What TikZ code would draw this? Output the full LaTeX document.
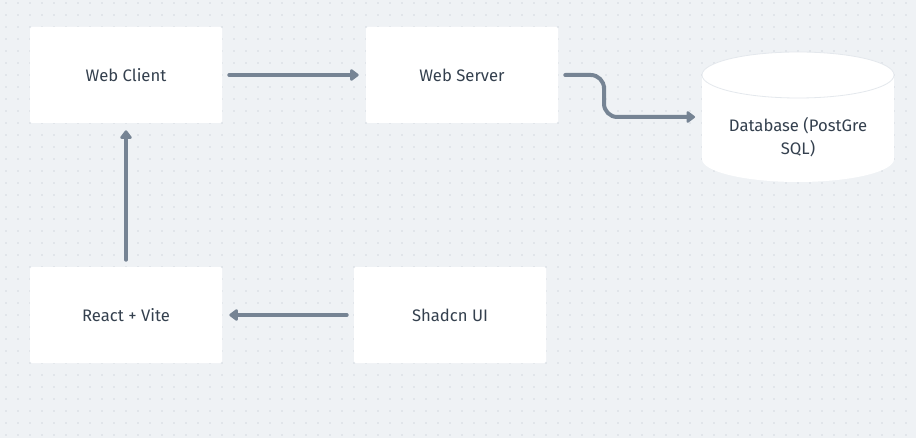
\documentclass[tikz,border=0pt]{standalone}
\usepackage{fontspec}
\setmainfont{Fira Sans}
\usetikzlibrary{arrows.meta}

\definecolor{canvas}{RGB}{239,242,245}
\definecolor{griddot}{RGB}{208,213,221}
\definecolor{flowline}{RGB}{118,132,148}
\definecolor{labeltext}{RGB}{52,64,78}
\definecolor{edgeline}{RGB}{228,232,237}

\tikzset{
    block/.style={rectangle, fill=white, rounded corners=1.5pt,
        minimum width=144pt, minimum height=72pt,
        font=\fontsize{12.5}{15}\selectfont, text=labeltext},
    flow/.style={draw=flowline, line width=3pt, line cap=round,
        -{Triangle[length=7pt, width=10pt, round]},
        shorten <=5.25pt, shorten >=5.25pt}
}

\begin{document}
\begin{tikzpicture}[x=0.75pt, y=-0.75pt]
    % Canvas and dot grid
    \fill[canvas] (0,0) rectangle (916,438);
    \useasboundingbox (0,0) rectangle (916,438);
    \fill[griddot] \foreach \x in {6,18,...,910} {
        \foreach \y in {3,15,...,435} { (\x-0.7,\y-0.7) rectangle (\x+0.7,\y+0.7) }
    };

    % Blocks
    \node[block] (wc) at (126,75) {Web Client};
    \node[block] (ws) at (462,75) {Web Server};
    \node[block] (rv) at (126,315) {React + Vite};
    \node[block] (ui) at (450,315) {Shadcn UI};

    % Database cylinder
    \fill[white] (798,159) ellipse [x radius=96, y radius=23];
    \fill[white] (702,75) rectangle (894,159);
    \fill[white, draw=edgeline, line width=0.6pt] (798,75) ellipse [x radius=96, y radius=23];
    \node[text=labeltext, font=\fontsize{12.5}{17.25}\selectfont, align=center,
        minimum width=144pt] (db) at (798,137)
        {Database (PostGre\\SQL)};
    \coordinate (dbin) at (702,117);

    % Connectors
    \coordinate (bend) at (604,96);
    \draw[flow] (wc) -- (ws);
    \draw[flow, rounded corners=10pt] (ws.east) -- (ws.east -| bend) -- (dbin -| bend) -- (dbin);
    \draw[flow] (ui) -- (rv);
    \draw[flow] (rv) -- (wc);
\end{tikzpicture}
\end{document}
